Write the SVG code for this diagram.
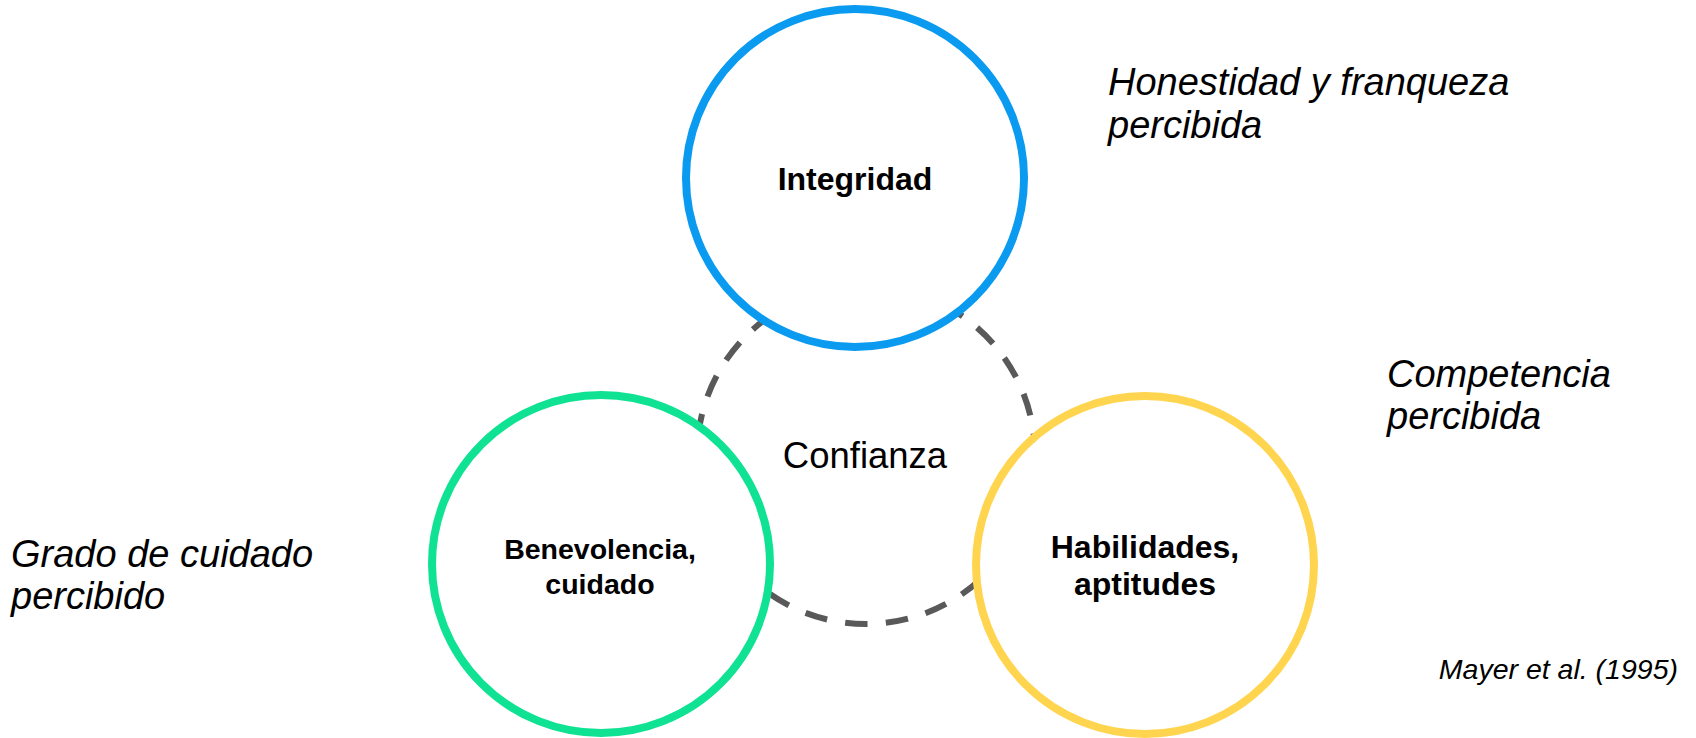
<svg xmlns="http://www.w3.org/2000/svg" width="1696" height="738" viewBox="0 0 1696 738">
<style>
.node{fill:#ffffff;stroke-width:8}
.lbl{font-family:"Liberation Sans",Arial,sans-serif;font-weight:bold;fill:#000;text-anchor:middle}
.note{font-family:"Liberation Sans",Arial,sans-serif;font-style:italic;fill:#000;font-size:38px}
.conn{fill:none;stroke:#595959;stroke-width:6;stroke-dasharray:22.5 18.34;stroke-dashoffset:22.1}
</style>
<rect width="1696" height="738" fill="#ffffff"/>
<g id="connectors">
<circle class="conn" cx="866" cy="455" r="169"/>
</g>
<g id="node-integridad">
<circle class="node" cx="855" cy="178" r="169" stroke="#0a9bf0"/>
<text class="lbl" x="855" y="190" font-size="32">Integridad</text>
</g>
<g id="node-benevolencia">
<circle class="node" cx="601" cy="564" r="169" stroke="#10e294"/>
<text class="lbl" x="600" y="559" font-size="28.5">Benevolencia,</text>
<text class="lbl" x="600" y="594" font-size="28.5">cuidado</text>
</g>
<g id="node-habilidades">
<circle class="node" cx="1145" cy="565" r="169" stroke="#ffd550"/>
<text class="lbl" x="1145" y="558" font-size="32">Habilidades,</text>
<text class="lbl" x="1145" y="595" font-size="32">aptitudes</text>
</g>
<g id="node-confianza">
<text x="865" y="468" font-family="'Liberation Sans',Arial,sans-serif" font-size="36.5" text-anchor="middle" fill="#000">Confianza</text>
</g>
<g id="notes">
<text class="note" x="1108" y="95">Honestidad y franqueza</text>
<text class="note" x="1108" y="138">percibida</text>
<text class="note" x="1387" y="387">Competencia</text>
<text class="note" x="1387" y="429">percibida</text>
<text class="note" x="11" y="567" font-size="37.3">Grado de cuidado</text>
<text class="note" x="11" y="609" font-size="37.3">percibido</text>
<text x="1678" y="679" font-family="'Liberation Sans',Arial,sans-serif" font-style="italic" font-size="28.5" text-anchor="end" fill="#000">Mayer et al. (1995)</text>
</g>
</svg>
